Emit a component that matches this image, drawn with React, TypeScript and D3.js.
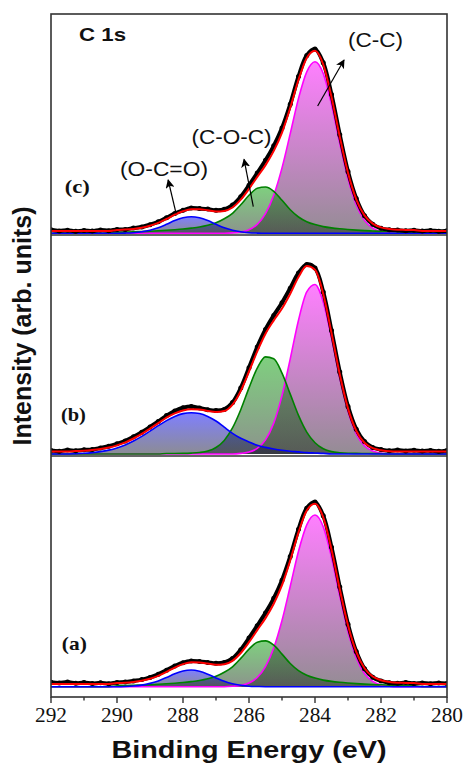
import React from 'react';
import * as d3 from 'd3';

// ---------- DATA ----------
const energies = [
  292.0, 291.75, 291.5, 291.25, 291.0, 290.75, 290.5, 290.25, 290.0, 289.75, 289.5, 289.25,
  289.0, 288.75, 288.5, 288.25, 288.0, 287.75, 287.5, 287.25, 287.0, 286.75, 286.5, 286.25,
  286.0, 285.75, 285.5, 285.25, 285.0, 284.75, 284.5, 284.25, 284.0, 283.75, 283.5, 283.25,
  283.0, 282.75, 282.5, 282.25, 282.0, 281.75, 281.5, 281.25, 281.0, 280.75, 280.5, 280.25, 280.0,
];

const majorTicks = [292, 290, 288, 286, 284, 282, 280];
const minorTicks = [291, 289, 287, 285, 283, 281];

const panelNames = ['(c)', '(b)', '(a)'];
const backgrounds = [2.3, 2.5, 2.7];

// panel (c)
const ccPeakC = [
  0, 0, 0, 0, 0, 0, 0, 0, 0, 0, 0, 0, 0, 0, 0, 0, 0, 0, 0, 0, 0, 0,
  0.4, 1.3, 3.6, 8.9, 19.6, 38.1, 65.4, 99.7, 134.9, 161.5, 171.6, 159.8, 128.7, 89.9, 54.4, 28.5, 12.9, 5.1, 1.7, 0.5,
  0, 0, 0, 0, 0, 0, 0,
];
const cocPeakC = [
  0, 0, 0, 0, 0, 0, 0, 0,
  0.9, 1.2, 1.5, 1.8, 2.1, 2.5, 3.0, 3.6, 4.3, 5.2, 6.3, 8.0, 10.5, 14.5, 20.0, 28.5, 38.0, 45.0, 46.3, 42.0, 33.0,
  23.5, 16.3, 11.6, 8.7, 6.7, 5.4, 4.5, 3.8, 3.2, 2.7, 2.3, 1.9, 1.6, 1.3, 1.1, 0.9,
  0, 0, 0, 0,
];
const ocoPeakC = [
  0, 0, 0, 0, 0, 0, 0, 0, 0,
  0.2, 0.6, 1.5, 3.1, 5.6, 9.0, 12.7, 15.5, 16.6, 15.5, 12.7, 9.0, 5.6, 3.1, 1.5, 0.6, 0.2,
  0, 0, 0, 0, 0, 0, 0, 0, 0, 0, 0, 0, 0, 0, 0, 0, 0, 0, 0, 0, 0, 0, 0,
];
const measuredC = [
  3.5, 2.4, 3.1, 2.0, 2.9, 2.2, 3.4, 2.6, 3.8, 3.9, 5.2, 6.3, 8.6, 11.5, 15.6, 19.8, 23.0, 25.3, 24.8, 24.2,
  23.1, 24.0, 28.2, 36.5, 48.0, 60.2, 73.0, 87.5, 105.2, 129.0, 156.8, 177.9, 184.2, 170.5, 138.8, 98.6,
  61.7, 34.8, 17.6, 9.0, 5.0, 3.6, 3.2, 2.5, 3.1, 2.2, 2.9, 2.0, 2.6,
];

// panel (b)
const ccPeakB = [
  0, 0, 0, 0, 0, 0, 0, 0, 0, 0, 0, 0, 0, 0, 0, 0, 0, 0, 0, 0, 0, 0, 0,
  0.6, 1.9, 5.6, 14.1, 30.9, 58.4, 95.2, 133.8, 162.1, 169.5, 151.8, 116.1, 75.9, 42.4, 20.2, 8.2, 2.9, 0.9, 0.2,
  0, 0, 0, 0, 0, 0, 0,
];
const cocPeakB = [
  0, 0, 0, 0, 0, 0, 0, 0, 0, 0, 0, 0, 0, 0,
  0.5, 0.5, 0.6, 0.9, 1.5, 2.9, 6.5, 13.6, 26.1, 44.3, 66.1, 85.9, 97.1, 95.2, 80.9, 59.9, 38.6, 21.9, 11.2,
  5.2, 2.4, 1.3, 0.75, 0.6, 0.5, 0.4, 0.4,
  0, 0, 0, 0, 0, 0, 0, 0,
];
const ocoPeakB = [
  0, 0, 0,
  0.4, 0.7, 1.4, 2.4, 3.9, 6.1, 9.1, 13.0, 17.6, 22.9, 28.3, 33.4, 37.6, 40.4, 41.3, 40.5, 37.6, 33.0, 26.8,
  20.7, 15.7, 12.0, 8.7, 6.6, 5.0, 3.7, 2.7, 2.1, 1.4, 1.0, 0.6,
  0, 0, 0, 0, 0, 0, 0, 0, 0, 0, 0, 0, 0, 0, 0,
];
const measuredB = [
  3.6, 2.8, 3.9, 3.3, 4.2, 4.6, 6.0, 7.8, 10.2, 13.1, 17.2, 21.8, 27.0, 32.5, 38.4, 43.0, 46.2, 47.5, 46.0,
  44.3, 43.4, 44.6, 51.5, 66.0, 86.3, 107.0, 124.5, 138.6, 151.2, 165.8, 181.0, 189.6, 186.0, 162.0, 123.4,
  82.0, 47.6, 24.8, 12.4, 6.5, 4.4, 3.2, 4.0, 3.1, 3.8, 2.9, 3.5, 2.7, 3.6,
];

// panel (a)
const ccPeakA = [
  0, 0, 0, 0, 0, 0, 0, 0, 0, 0, 0, 0, 0, 0, 0, 0, 0, 0, 0, 0, 0, 0,
  0.4, 1.3, 3.7, 9.2, 20.1, 38.8, 66.2, 100.5, 135.5, 161.9, 171.7, 160.0, 129.2, 90.6, 55.0, 29.0, 13.2, 5.3, 1.8, 0.5,
  0, 0, 0, 0, 0, 0, 0,
];
const cocPeakA = [
  0, 0, 0, 0, 0, 0, 0, 0,
  0.9, 1.1, 1.4, 1.7, 2.0, 2.4, 2.9, 3.5, 4.2, 5.1, 6.2, 7.9, 10.4, 14.4, 19.9, 28.3, 37.6, 44.5, 45.8, 41.5, 32.6,
  23.2, 16.1, 11.5, 8.6, 6.6, 5.3, 4.4, 3.7, 3.1, 2.6, 2.2, 1.9, 1.6, 1.3, 1.1, 0.9,
  0, 0, 0, 0,
];
const ocoPeakA = [
  0, 0, 0, 0, 0, 0, 0, 0, 0,
  0.2, 0.7, 1.6, 3.3, 5.8, 9.2, 12.9, 15.7, 16.7, 15.4, 12.5, 8.8, 5.4, 2.9, 1.4, 0.5, 0.2,
  0, 0, 0, 0, 0, 0, 0, 0, 0, 0, 0, 0, 0, 0, 0, 0, 0, 0, 0, 0, 0, 0, 0,
];
const measuredA = [
  4.5, 3.8, 4.6, 3.5, 4.1, 3.2, 3.9, 3.0, 4.2, 4.6, 5.8, 7.1, 9.3, 12.4, 16.5, 20.6, 24.0, 25.6, 25.2, 24.3,
  23.4, 24.2, 28.3, 37.0, 48.6, 61.0, 73.8, 88.4, 106.5, 130.2, 157.4, 178.5, 184.6, 171.0, 139.5, 99.6,
  62.5, 35.2, 18.0, 9.4, 5.8, 4.0, 3.4, 4.1, 3.2, 3.8, 3.0, 3.7, 3.1,
];

// annotations (panel c), in data units (eV, intensity)
const annotationLabels = ['(C-C)', '(C-O-C)', '(O-C=O)'];
const labelEnergy = [283.0, 287.74, 289.91];
const labelIntensity = [186, 89.6, 57.8];
const arrowFromEnergy = [283.92, 285.87, 288.21];
const arrowFromIntensity = [127.3, 26.6, 20];
const arrowToEnergy = [283.12, 286.15, 288.45];
const arrowToIntensity = [173.3, 74, 53.3];
const titleText = 'C 1s';
const titleEnergy = 291.15;
const titleIntensity = 192.3;
const panelLabelEnergy = [291.58, 291.7, 291.67];
const panelLabelIntensity = [40.3, 33, 36.7];

// ---------- LAYOUT / STYLE ----------
const W = 467;
const H = 770;
const plotLeft = 51;
const plotRight = 447;
const panelLayout = [
  { top: 14, bottom: 235, yMin: -1.7, yMax: 219.3 },
  { top: 235, bottom: 456, yMin: -2, yMax: 219 },
  { top: 456, bottom: 697, yMin: -10.3, yMax: 230.7 },
];
const annotationWidths = [55, 80, 88];
const peakStyles = [
  { stroke: '#ff00ff', top: '#ff00ff', bottom: '#2a1a2a' },
  { stroke: '#008000', top: '#00a000', bottom: '#1a2a1a' },
  { stroke: '#0000ff', top: '#0000ff', bottom: '#1a1a2a' },
];
const sans = "'Liberation Sans', Arial, sans-serif";
const serif = "'Liberation Serif', 'Times New Roman', serif";

export default function App() {
  const x = d3.scaleLinear().domain([292, 280]).range([plotLeft, plotRight]);

  const panels = [
    { peaks: [ccPeakC, cocPeakC, ocoPeakC], data: measuredC },
    { peaks: [ccPeakB, cocPeakB, ocoPeakB], data: measuredB },
    { peaks: [ccPeakA, cocPeakA, ocoPeakA], data: measuredA },
  ];

  const bottomY = panelLayout[2].bottom;

  return (
    <svg
      width={W}
      height={H}
      viewBox={`0 0 ${W} ${H}`}
      style={{ position: 'absolute', left: 0, top: 0, background: '#fff' }}
    >
      <defs>
        {panels.map((_, p) =>
          peakStyles.map((s, k) => (
            <linearGradient key={`g${p}${k}`} id={`grad-${p}-${k}`} x1="0" y1="0" x2="0" y2="1">
              <stop offset="0" stopColor={s.top} />
              <stop offset="1" stopColor={s.bottom} />
            </linearGradient>
          ))
        )}
        <marker id="arrowHead" viewBox="0 0 10 10" refX="9" refY="5" markerWidth="9" markerHeight="9"
          markerUnits="userSpaceOnUse" orient="auto">
          <path d="M0,0 L10,5 L0,10 L2.5,5 z" fill="#000" />
        </marker>
        <clipPath id="plotClip">
          <rect x={plotLeft} y={panelLayout[0].top} width={plotRight - plotLeft} height={bottomY - panelLayout[0].top} />
        </clipPath>
      </defs>

      {panels.map((panel, p) => {
        const L = panelLayout[p];
        const y = d3.scaleLinear().domain([L.yMin, L.yMax]).range([L.bottom, L.top]);
        const envelope = energies.map((_, i) => backgrounds[p] + panel.peaks.reduce((s, arr) => s + arr[i], 0));
        const area = d3
          .area<number>()
          .x((_, i) => x(energies[i]))
          .y0(y(0))
          .y1((v) => y(v))
          .curve(d3.curveMonotoneX);
        const line = d3
          .line<number>()
          .x((_, i) => x(energies[i]))
          .y((v) => y(v))
          .curve(d3.curveMonotoneX);
        const dataLine = d3
          .line<number>()
          .x((_, i) => x(energies[i]))
          .y((v) => y(v))
          .curve(d3.curveCatmullRom);
        return (
          <g key={p} clipPath="url(#plotClip)">
            {panel.peaks.map((arr, k) => (
              <path key={`a${k}`} d={area(arr) || ''} fill={`url(#grad-${p}-${k})`} fillOpacity={0.5} />
            ))}
            {panel.peaks.map((arr, k) => (
              <path key={`l${k}`} d={line(arr) || ''} fill="none" stroke={peakStyles[k].stroke} strokeWidth={1.6} />
            ))}
            <path d={dataLine(panel.data) || ''} fill="none" stroke="#000" strokeWidth={4} strokeLinejoin="round" />
            {panel.data.map((v, i) => (
              <circle key={`d${i}`} cx={x(energies[i])} cy={y(v)} r={2.5} fill="#000" />
            ))}
            <path d={line(envelope) || ''} fill="none" stroke="#ff0000" strokeWidth={2} />
          </g>
        );
      })}

      {/* panel letters */}
      {panelNames.map((nm, p) => {
        const L = panelLayout[p];
        const y = d3.scaleLinear().domain([L.yMin, L.yMax]).range([L.bottom, L.top]);
        return (
          <text key={nm} x={x(panelLabelEnergy[p])} y={y(panelLabelIntensity[p])} fontFamily={serif}
            fontWeight="bold" fontSize={19} textLength={25} lengthAdjust="spacingAndGlyphs" fill="#111">
            {nm}
          </text>
        );
      })}

      {/* annotations in panel c */}
      {(() => {
        const L = panelLayout[0];
        const y = d3.scaleLinear().domain([L.yMin, L.yMax]).range([L.bottom, L.top]);
        return (
          <g>
            <text x={x(titleEnergy)} y={y(titleIntensity)} fontFamily={sans} fontWeight="bold" fontSize={19}
              textLength={47} lengthAdjust="spacingAndGlyphs" fill="#111">
              {titleText}
            </text>
            {annotationLabels.map((t, i) => (
              <g key={t}>
                <text x={x(labelEnergy[i])} y={y(labelIntensity[i])} fontFamily={sans} fontSize={21}
                  textLength={annotationWidths[i]} lengthAdjust="spacingAndGlyphs" fill="#111">
                  {t}
                </text>
                <line x1={x(arrowFromEnergy[i])} y1={y(arrowFromIntensity[i])}
                  x2={x(arrowToEnergy[i])} y2={y(arrowToIntensity[i])}
                  stroke="#000" strokeWidth={1.2} markerEnd="url(#arrowHead)" />
              </g>
            ))}
          </g>
        );
      })()}

      {/* frame and panel dividers */}
      <rect x={plotLeft} y={panelLayout[0].top} width={plotRight - plotLeft} height={bottomY - panelLayout[0].top}
        fill="none" stroke="#333" strokeWidth={1.6} />
      {panelLayout.slice(0, 2).map((L, i) => (
        <line key={i} x1={plotLeft} x2={plotRight} y1={L.bottom} y2={L.bottom} stroke="#333" strokeWidth={1.6} />
      ))}

      {/* bottom axis */}
      {majorTicks.map((t) => (
        <g key={`M${t}`}>
          <line x1={x(t)} x2={x(t)} y1={bottomY} y2={bottomY + 6} stroke="#333" strokeWidth={1.4} />
          <text x={x(t)} y={bottomY + 25} textAnchor="middle" fontFamily={serif} fontSize={20}
            textLength={32} lengthAdjust="spacingAndGlyphs" fill="#111">
            {t}
          </text>
        </g>
      ))}
      {minorTicks.map((t) => (
        <line key={`m${t}`} x1={x(t)} x2={x(t)} y1={bottomY} y2={bottomY + 3.5} stroke="#333" strokeWidth={1.4} />
      ))}

      <text x={(plotLeft + plotRight) / 2} y={758} textAnchor="middle" fontFamily={sans} fontWeight="bold"
        fontSize={23.5} textLength={275} lengthAdjust="spacingAndGlyphs" fill="#111">
        Binding Energy (eV)
      </text>
      <text transform="translate(31,326) rotate(-90)" textAnchor="middle" fontFamily={sans} fontWeight="bold"
        fontSize={25} fill="#111">
        Intensity (arb. units)
      </text>
    </svg>
  );
}
